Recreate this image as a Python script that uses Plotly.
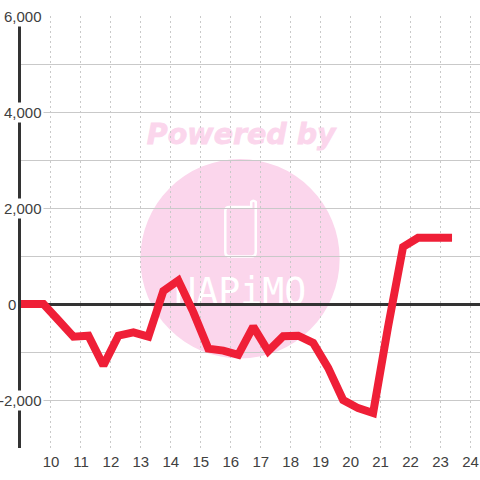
import plotly.graph_objects as go

hours = [9.0, 9.75, 10.25, 10.75, 11.25, 11.75, 12.25, 12.75, 13.25, 13.75, 14.25, 14.75, 15.25, 15.75, 16.25,
         16.75, 17.25, 17.75, 18.25, 18.75, 19.25, 19.75, 20.25, 20.75, 21.25, 21.75, 22.25, 22.75, 23.25]
values = [0, 0, -340, -680, -660, -1280, -660, -590, -680, 270, 490, -170, -930, -970, -1060,
          -470, -980, -670, -660, -810, -1330, -2000, -2170, -2270, -470, 1190, 1380, 1380, 1380]
x_ticks = list(range(10, 25))
y_grid = list(range(-3000, 7000, 1000))
y_labels = [6000, 4000, 2000, 0, -2000]

W, H = 480, 480
L, R, T, B = 20.5, 0, 16, 32
def px(x): return (x - L) / (W - L - R)
def py(y): return 1 - (y - T) / (H - T - B)

FONT = "Liberation Sans"
TEXT = "#404040"
GRID = "#c9c9c9"
PINK = "#fbd6ec"

fig = go.Figure(go.Scatter(x=hours, y=values, mode="lines", cliponaxis=False,
                           line=dict(color="#ef1f37", width=8, shape="linear"), hoverinfo="skip"))

shapes = [dict(type="circle", xref="paper", yref="paper", layer="below",
               x0=px(140), x1=px(339.5), y0=py(358.5), y1=py(159), fillcolor=PINK, line_width=0),
          dict(type="path", xref="paper", yref="paper", layer="below",
               path=(f"M {px(229)} {py(207)} L {px(251)} {py(207)} L {px(251)} {py(202)} "
                     f"Q {px(253)} {py(199.5)} {px(255.5)} {py(202)} L {px(255.5)} {py(252)} "
                     f"Q {px(255.5)} {py(256.5)} {px(251)} {py(256.5)} L {px(230)} {py(256.5)} "
                     f"Q {px(225)} {py(256.5)} {px(225)} {py(252)} L {px(225)} {py(211)} "
                     f"Q {px(225)} {py(207)} {px(229)} {py(207)} Z"),
               line=dict(color="white", width=2.5), fillcolor="rgba(0,0,0,0)"),
          dict(type="rect", xref="paper", yref="paper", layer="below",
               x0=px(141), x1=px(341), y0=py(150), y1=py(114), line_width=0, fillcolor="rgba(0,0,0,0)",
               label=dict(text="<b><i>Powered by</i></b>", textposition="middle center",
                          font=dict(family="DejaVu Sans", size=28.5, color=PINK))),
          dict(type="rect", xref="paper", yref="paper", layer="below",
               x0=px(140), x1=px(340), y0=py(307), y1=py(271), line_width=0, fillcolor="rgba(0,0,0,0)",
               label=dict(text="NAPiMO", textposition="middle center",
                          font=dict(family="DejaVu Sans Mono", size=36.5, color="white")))]

annotations = []
for v in y_labels:
    annotations.append(dict(xref="paper", yref="y", x=px(44 if v else 17), y=v, xanchor="right", yanchor="middle",
                            text=f"{v:,}", showarrow=False, align="right",
                            font=dict(family=FONT, size=15, color=TEXT),
                            bgcolor="white" if v else "rgba(0,0,0,0)", borderpad=1))

fig.update_layout(
    width=W, height=H, autosize=False, showlegend=False,
    margin=dict(l=L, r=R, t=T, b=B, pad=0, autoexpand=False),
    paper_bgcolor="white", plot_bgcolor="white",
    shapes=shapes, annotations=annotations,
    xaxis=dict(range=[9, 24.317], tickmode="array", tickvals=x_ticks, ticktext=[str(t) for t in x_ticks],
               showgrid=True, gridcolor=GRID, gridwidth=1, griddash="2px,3px", zeroline=False,
               showline=False, ticks="", ticklen=0, tickfont=dict(family=FONT, size=15, color=TEXT),
               ticklabelstandoff=3, fixedrange=True),
    yaxis=dict(range=[-3000, 6000], tickmode="array", tickvals=y_grid, showticklabels=False,
               showgrid=True, gridcolor=GRID, gridwidth=1, zeroline=True, zerolinecolor="#333333", zerolinewidth=3,
               showline=True, linecolor="#333333", linewidth=3, layer="below traces", ticks="", fixedrange=True),
)

post = """
document.documentElement.style.margin='0';
document.body.style.margin='0';
document.body.style.overflow='hidden';
document.querySelectorAll('.scatterlayer .js-line').forEach(function(p){
  p.style.strokeLinejoin='miter'; p.style.strokeMiterlimit='2'; p.style.strokeLinecap='square';
});
document.querySelectorAll('.shapelayer text').forEach(function(t){
  if (t.textContent.indexOf('Powered')===0) { t.style.stroke='#fbd6ec'; t.style.strokeWidth='0.8'; }
});
"""
fig.write_html("out.html", post_script=post, config=dict(displayModeBar=False))
